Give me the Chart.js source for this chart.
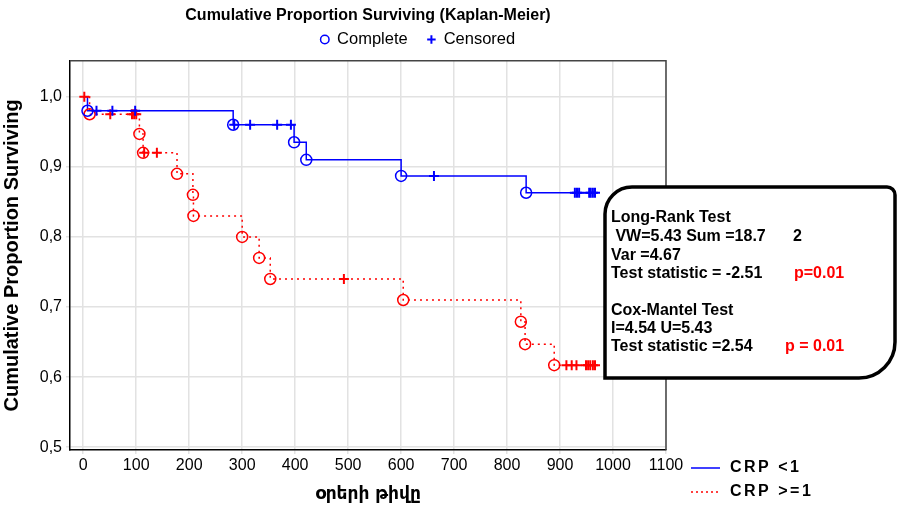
<!DOCTYPE html>
<html>
<head>
<meta charset="utf-8">
<script src="https://cdn.jsdelivr.net/npm/chart.js@4.4.1/dist/chart.umd.min.js"></script>
<style>
html, body { margin: 0; padding: 0; background: #fff; }
#wrap { width: 899px; height: 509px; }
</style>
</head>
<body>
<div id="wrap"><canvas id="kmChart"></canvas></div>
<script>
// groups
const groupLabels = ['CRP <1', 'CRP >=1'];

// CRP <1 : step curve, complete (event) points, censored points
const blueCurveDays = [0, 8, 283, 398, 421, 600, 836, 970];
const blueCurveSurv = [1.0, 0.980, 0.960, 0.935, 0.910, 0.887, 0.863, 0.863];
const blueEventDays = [8, 283, 398, 421, 600, 836];
const blueEventSurv = [0.980, 0.960, 0.935, 0.910, 0.887, 0.863];
const blueCensDays = [25, 55, 98, 285, 315, 366, 392, 662, 928, 932, 936, 955, 958, 962, 966];
const blueCensSurv = [0.980, 0.980, 0.980, 0.960, 0.960, 0.960, 0.960, 0.887, 0.863, 0.863, 0.863, 0.863, 0.863, 0.863, 0.863];

// CRP >=1
const redCurveDays = [0, 12, 106, 113, 177, 207, 208, 300, 332, 353, 604, 826, 834, 889, 972];
const redCurveSurv = [1.0, 0.975, 0.947, 0.920, 0.890, 0.860, 0.830, 0.800, 0.770, 0.740, 0.710, 0.679, 0.647, 0.617, 0.617];
const redEventDays = [12, 106, 113, 177, 207, 208, 300, 332, 353, 604, 826, 834, 889];
const redEventSurv = [0.975, 0.947, 0.920, 0.890, 0.860, 0.830, 0.800, 0.770, 0.740, 0.710, 0.679, 0.647, 0.617];
const redCensDays = [2, 51, 92, 96, 100, 115, 139, 492, 912, 922, 931, 949, 953, 957, 962, 966];
const redCensSurv = [1.0, 0.975, 0.975, 0.975, 0.975, 0.920, 0.920, 0.740, 0.617, 0.617, 0.617, 0.617, 0.617, 0.617, 0.617, 0.617];

// ticks
const xTicks = [0, 100, 200, 300, 400, 500, 600, 700, 800, 900, 1000, 1100];
const yTicks = [0.5, 0.6, 0.7, 0.8, 0.9, 1.0];

// test results shown in the box
const statLines = [
    ['Long-Rank Test', ''],
    [' VW=5.43 Sum =18.7', '2'],
    ['Var =4.67', ''],
    ['Test statistic = -2.51', 'p=0.01'],
    ['', ''],
    ['Cox-Mantel Test', ''],
    ['I=4.54 U=5.43', ''],
    ['Test statistic =2.54', 'p = 0.01']
];

const BLUE = '#0000ff';
const RED = '#ff0000';

function pts(xs, ys) {
    return xs.map((x, i) => ({ x: x, y: ys[i] }));
}

Chart.defaults.font.family = "'Liberation Sans', Arial, sans-serif";
Chart.defaults.color = '#000';

const extras = {
    id: 'extras',
    afterDraw(chart) {
        const ctx = chart.ctx;
        const a = chart.chartArea;
        ctx.save();
        // frame top / right
        ctx.strokeStyle = '#444';
        ctx.lineWidth = 1.5;
        ctx.beginPath();
        ctx.moveTo(a.left, a.top);
        ctx.lineTo(a.right, a.top);
        ctx.lineTo(a.right, a.bottom);
        ctx.stroke();

        // stats box
        const L = 605, T = 187, R = 895, B = 378;
        ctx.beginPath();
        ctx.moveTo(L, B);
        ctx.lineTo(L, T + 27);
        ctx.arcTo(L, T, L + 27, T, 27);
        ctx.lineTo(R - 8, T);
        ctx.arcTo(R, T, R, T + 8, 8);
        ctx.lineTo(R, B - 36);
        ctx.arcTo(R, B, R - 36, B, 36);
        ctx.closePath();
        ctx.fillStyle = '#fff';
        ctx.fill();
        ctx.strokeStyle = '#000';
        ctx.lineWidth = 3.5;
        ctx.stroke();

        ctx.font = "bold 16px 'Liberation Sans', Arial, sans-serif";
        ctx.textBaseline = 'middle';
        const rowY = [218, 237, 256, 274, 292, 311, 329, 347];
        statLines.forEach((row, i) => {
            ctx.fillStyle = '#000';
            ctx.fillText(row[0], 611, rowY[i]);
            if (row[1]) {
                const isP = row[1].startsWith('p');
                ctx.fillStyle = isP ? RED : '#000';
                ctx.fillText(row[1], row[1] === 'p = 0.01' ? 785 : (isP ? 794 : 793), rowY[i]);
            }
        });

        // group legend
        ctx.lineWidth = 1.5;
        ctx.strokeStyle = BLUE;
        ctx.setLineDash([]);
        ctx.beginPath();
        ctx.moveTo(691, 468);
        ctx.lineTo(720, 468);
        ctx.stroke();
        ctx.strokeStyle = RED;
        ctx.setLineDash([2, 3]);
        ctx.beginPath();
        ctx.moveTo(691, 492);
        ctx.lineTo(720, 492);
        ctx.stroke();
        ctx.setLineDash([]);
        ctx.fillStyle = '#000';
        ctx.font = "bold 16px 'Liberation Sans', Arial, sans-serif";
        ctx.letterSpacing = '2.5px';
        ctx.fillText(groupLabels[0], 730, 468);
        ctx.fillText(groupLabels[1], 730, 492);
        ctx.restore();
    }
};

const ctx = document.getElementById('kmChart').getContext('2d');
const kmChart = new Chart(ctx, {
    type: 'scatter',
    data: {
        datasets: [
            {
                label: 'complete ' + groupLabels[0],
                data: pts(blueEventDays, blueEventSurv),
                pointStyle: 'circle',
                pointRadius: 5.5,
                borderColor: BLUE,
                backgroundColor: 'rgba(0,0,0,0)',
                borderWidth: 1.5
            },
            {
                label: 'censored ' + groupLabels[0],
                data: pts(blueCensDays, blueCensSurv),
                pointStyle: 'cross',
                pointRadius: 5,
                borderColor: BLUE,
                borderWidth: 2
            },
            {
                label: 'complete ' + groupLabels[1],
                data: pts(redEventDays, redEventSurv),
                pointStyle: 'circle',
                pointRadius: 5.5,
                borderColor: RED,
                backgroundColor: 'rgba(0,0,0,0)',
                borderWidth: 1.5
            },
            {
                label: 'censored ' + groupLabels[1],
                data: pts(redCensDays, redCensSurv),
                pointStyle: 'cross',
                pointRadius: 5,
                borderColor: RED,
                borderWidth: 2
            },
            {
                type: 'line',
                label: groupLabels[0],
                data: pts(blueCurveDays, blueCurveSurv),
                stepped: 'before',
                borderColor: BLUE,
                borderWidth: 1.5,
                pointRadius: 0,
                fill: false
            },
            {
                type: 'line',
                label: groupLabels[1],
                data: pts(redCurveDays, redCurveSurv),
                stepped: 'before',
                borderColor: RED,
                borderWidth: 1.5,
                borderDash: [2, 4],
                pointRadius: 0,
                fill: false
            }
        ]
    },
    options: {
        responsive: true,
        maintainAspectRatio: false,
        animation: false,
        layout: {
            padding: { left: 0, right: 63, top: 0, bottom: 0 }
        },
        plugins: {
            tooltip: { enabled: false },
            title: {
                display: true,
                fullSize: false,
                text: 'Cumulative Proportion Surviving (Kaplan-Meier)',
                font: { size: 16, weight: 'bold' },
                padding: { top: 6, bottom: 0 }
            },
            legend: {
                display: true,
                onClick: null,
                labels: {
                    usePointStyle: true,
                    boxWidth: 8,
                    boxHeight: 6,
                    padding: 6,
                    font: { size: 16.5 },
                    generateLabels: () => [
                        { text: 'Complete   ', pointStyle: 'circle', strokeStyle: BLUE, fillStyle: 'rgba(0,0,0,0)', lineWidth: 1.5, fontColor: '#000', hidden: false },
                        { text: 'Censored', pointStyle: 'cross', strokeStyle: BLUE, fillStyle: BLUE, lineWidth: 2, fontColor: '#000', hidden: false }
                    ]
                }
            }
        },
        scales: {
            x: {
                type: 'linear',
                min: -25,
                max: 1100,
                afterBuildTicks: (s) => { s.ticks = xTicks.map(v => ({ value: v })); },
                afterFit: (s) => { s.height = 59; },
                grid: { color: '#e2e2e2', lineWidth: 1.5, tickLength: 4 },
                border: { color: '#000', width: 1.5 },
                ticks: { font: { size: 16 }, padding: 2, maxRotation: 0, callback: (v) => String(v) },
                title: {
                    display: true,
                    text: 'օրերի թիվը',
                    font: { family: "'DejaVu Sans', sans-serif", size: 17, weight: 'bold' },
                    padding: { top: 2, bottom: 4 }
                }
            },
            x2: {
                type: 'linear',
                position: 'top',
                display: true,
                min: 0,
                max: 1,
                grid: { display: false },
                border: { display: false },
                ticks: { display: false },
                afterFit: (s) => { s.height = 3; }
            },
            y: {
                min: 0.496,
                max: 1.0514,
                afterBuildTicks: (s) => { s.ticks = yTicks.map(v => ({ value: v })); },
                afterFit: (s) => { s.width = 70; },
                grid: { color: '#e2e2e2', lineWidth: 1.5, tickLength: 4 },
                border: { color: '#000', width: 1.5 },
                ticks: {
                    font: { size: 16 },
                    padding: 4,
                    callback: (v) => v.toFixed(1).replace('.', ',')
                },
                title: {
                    display: true,
                    text: 'Cumulative Proportion Surviving',
                    font: { size: 20, weight: 'bold' },
                    padding: { top: 0, bottom: 5 }
                }
            },
            y2: {
                position: 'right',
                display: true,
                min: 0,
                max: 1,
                grid: { display: false },
                border: { display: false },
                ticks: { display: false },
                afterFit: (s) => { s.width = 170; }
            }
        }
    },
    plugins: [extras]
});
</script>
</body>
</html>
